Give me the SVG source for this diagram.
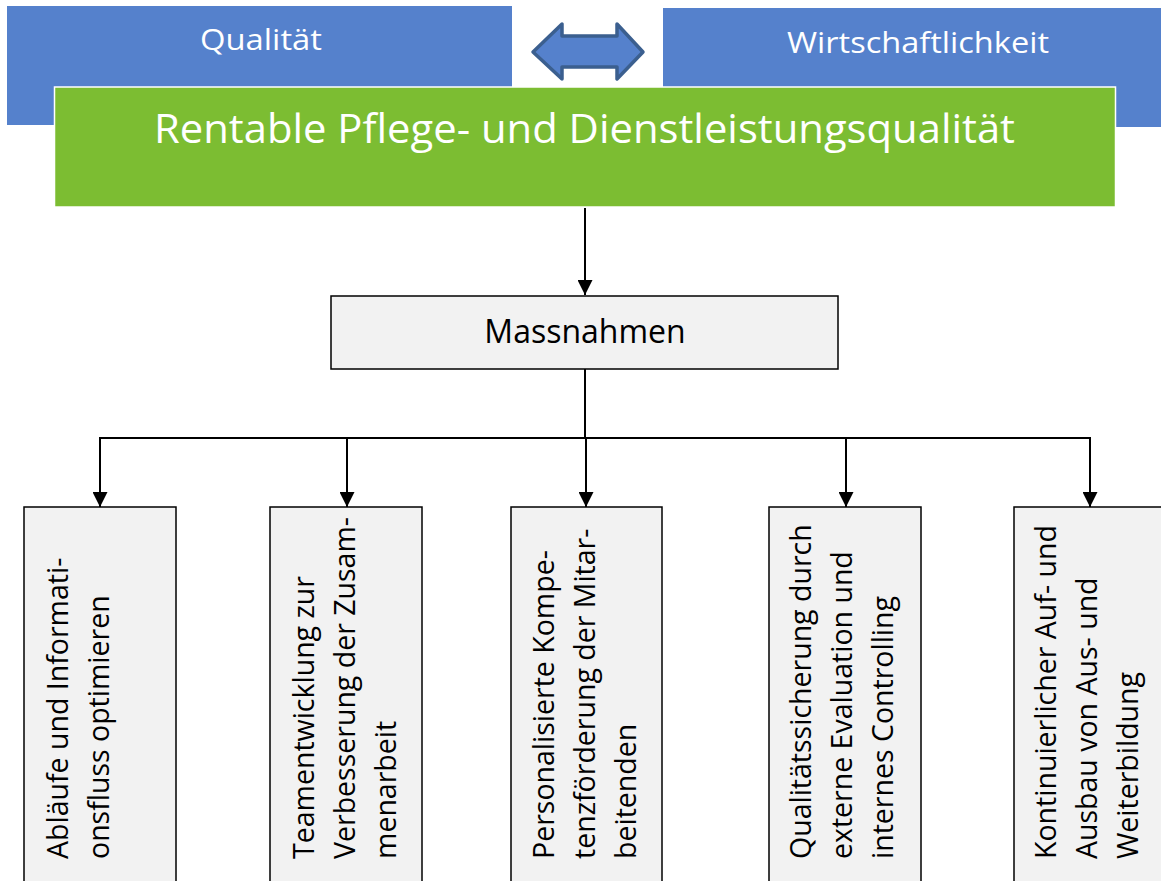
<svg xmlns="http://www.w3.org/2000/svg" width="1161" height="881" viewBox="0 0 1161 881">
<defs>
<style>
.blue{fill:#5581cc;}
.top{font-family:"Open Sans","Liberation Sans",sans-serif;fill:#ffffff;}
.box{fill:#f2f2f2;stroke:#000000;stroke-width:1.5;}
.lbl{font-family:"Open Sans","Liberation Sans",sans-serif;font-size:28.5px;fill:#000000;}
.conn{fill:none;stroke:#000000;stroke-width:2;}
</style>
<marker id="ah" markerWidth="15" markerHeight="15" refX="15" refY="7.5" orient="auto" markerUnits="userSpaceOnUse" viewBox="0 0 15 15">
<path d="M0,0 L15,7.5 L0,15 Z" fill="#000000"/>
</marker>
</defs>
<rect width="1161" height="881" fill="#ffffff"/>
<g id="qualitaet">
<rect class="blue" x="7" y="6" width="505" height="119"/>
<text class="top" x="261" y="50" font-size="29" text-anchor="middle" textLength="122" lengthAdjust="spacingAndGlyphs">Qualität</text>
</g>
<g id="wirtschaftlichkeit">
<rect class="blue" x="663" y="8" width="498" height="119"/>
<text class="top" x="918" y="53" font-size="29" text-anchor="middle" textLength="262" lengthAdjust="spacingAndGlyphs">Wirtschaftlichkeit</text>
</g>
<g id="doppelpfeil">
<polygon points="533,52 562,24 562,36 617,36 617,24 643,52 617,79 617,67 562,67 562,79" fill="#5581cc" stroke="#3b5f8f" stroke-width="3.5" stroke-linejoin="round"/>
</g>
<g id="rentable">
<rect x="54.5" y="87" width="1061" height="120" fill="#7cbd32" stroke="#ffffff" stroke-width="1.5"/>
<text class="top" x="584.5" y="143" font-size="41" text-anchor="middle" textLength="861" lengthAdjust="spacingAndGlyphs">Rentable Pflege- und Dienstleistungsqualität</text>
</g>
<g id="massnahmen">
<rect class="box" x="331" y="296" width="507" height="73"/>
<text x="585" y="343" text-anchor="middle" font-family="Open Sans, Liberation Sans, sans-serif" font-size="32" fill="#000000">Massnahmen</text>
</g>
<g id="connectors">
<line class="conn" x1="585" y1="208" x2="585" y2="295" marker-end="url(#ah)"/>
<polyline class="conn" points="585,369 585,438"/>
<line class="conn" x1="100" y1="438" x2="1090" y2="438"/>
<line class="conn" x1="100" y1="437" x2="100" y2="507" marker-end="url(#ah)"/>
<line class="conn" x1="347" y1="438" x2="347" y2="507" marker-end="url(#ah)"/>
<line class="conn" x1="586" y1="438" x2="586" y2="507" marker-end="url(#ah)"/>
<line class="conn" x1="846" y1="438" x2="846" y2="507" marker-end="url(#ah)"/>
<line class="conn" x1="1090" y1="437" x2="1090" y2="507" marker-end="url(#ah)"/>
</g>
<g id="m1">
<rect class="box" x="24" y="507" width="152" height="380"/>
<text class="lbl" transform="translate(68,859) rotate(-90)"><tspan x="0" y="0">Abläufe und Informati-</tspan><tspan x="0" y="41">onsfluss optimieren</tspan></text>
</g>
<g id="m2">
<rect class="box" x="270" y="507" width="152" height="380"/>
<text class="lbl" transform="translate(314,859) rotate(-90)"><tspan x="0" y="0">Teamentwicklung zur</tspan><tspan x="0" y="41">Verbesserung der Zusam-</tspan><tspan x="0" y="82">menarbeit</tspan></text>
</g>
<g id="m3">
<rect class="box" x="511" y="507" width="151" height="380"/>
<text class="lbl" transform="translate(554,859) rotate(-90)"><tspan x="0" y="0">Personalisierte Kompe-</tspan><tspan x="0" y="41">tenzförderung der Mitar-</tspan><tspan x="0" y="82">beitenden</tspan></text>
</g>
<g id="m4">
<rect class="box" x="769" y="507" width="152" height="380"/>
<text class="lbl" transform="translate(811,859) rotate(-90)"><tspan x="0" y="0">Qualitätssicherung durch</tspan><tspan x="0" y="41">externe Evaluation und</tspan><tspan x="0" y="82">internes Controlling</tspan></text>
</g>
<g id="m5">
<rect class="box" x="1014" y="507" width="152" height="380"/>
<text class="lbl" transform="translate(1056,859) rotate(-90)"><tspan x="0" y="0">Kontinuierlicher Auf- und</tspan><tspan x="0" y="41">Ausbau von Aus- und</tspan><tspan x="0" y="82">Weiterbildung</tspan></text>
</g>
</svg>
